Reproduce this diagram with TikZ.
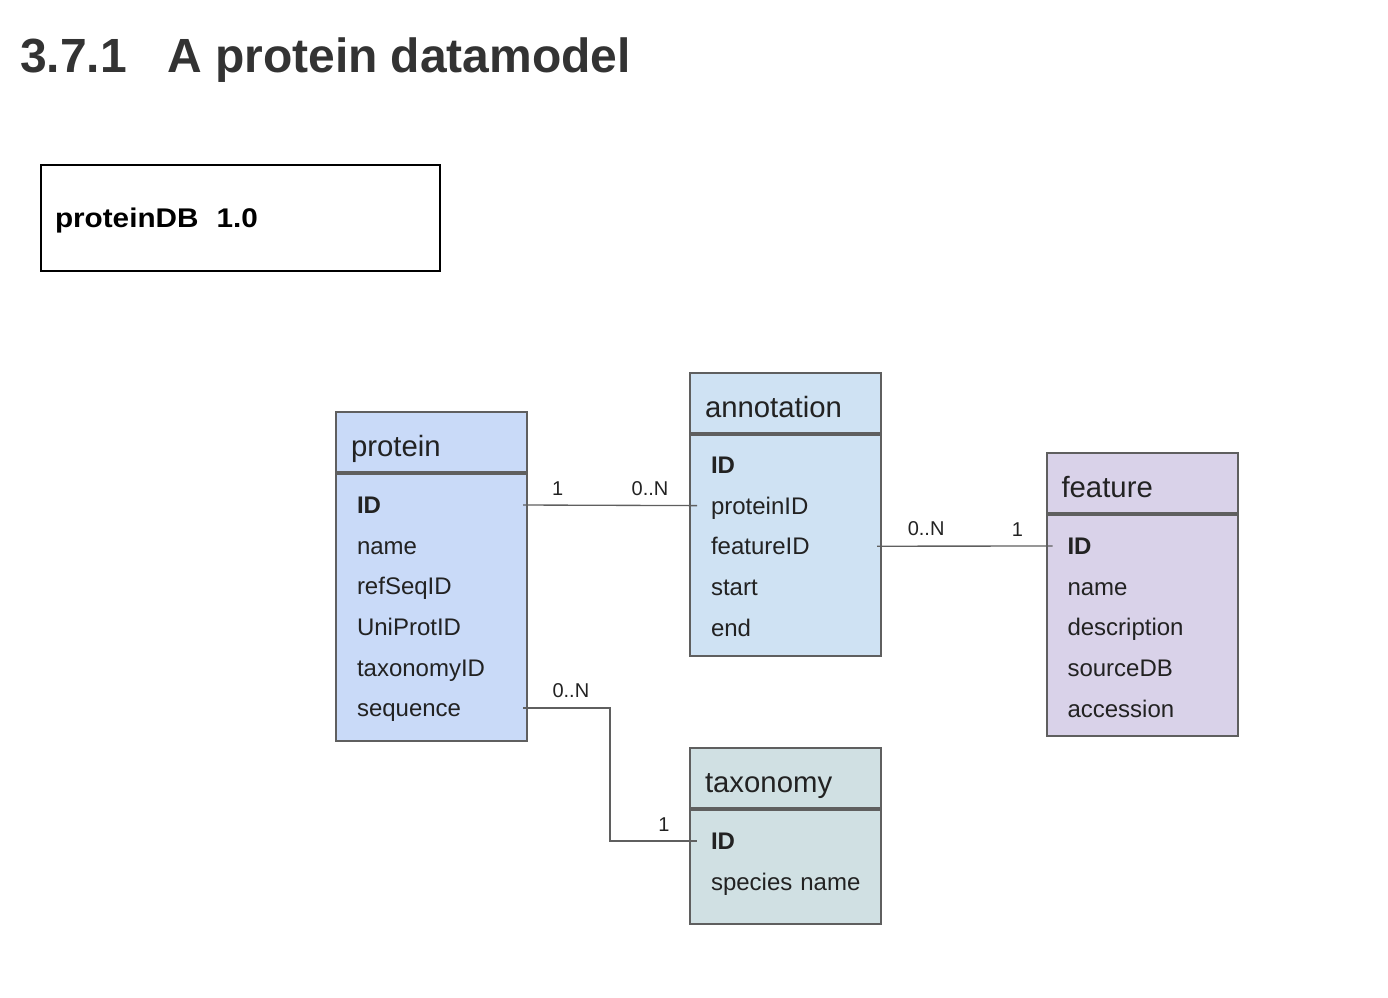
\documentclass[tikz,border=0pt]{standalone}
\usepackage{fontspec}
\setmainfont{Liberation Sans}
\newfontfamily\dbfont[FakeStretch=1.1]{Liberation Sans}
\usetikzlibrary{positioning,calc}
\definecolor{protcol}{HTML}{C9DAF8}
\definecolor{anncol}{HTML}{CFE2F3}
\definecolor{featcol}{HTML}{D9D2E9}
\definecolor{taxcol}{HTML}{D0E0E3}
\definecolor{edge}{HTML}{5F5F5F}
\definecolor{ink}{HTML}{222222}
\definecolor{titlecol}{HTML}{333333}
\begin{document}
\begin{tikzpicture}[x=0.75pt, y=-0.75pt, node distance={30.45pt},
  head/.style = {draw=edge, line width=1.5pt, minimum width=143.25pt, minimum height=45pt, text width=120.75pt, inner xsep=11.25pt, align=left, text height=21pt, text depth=0pt, text=ink, font=\fontsize{22}{26}\selectfont},
  body/.style = {draw=edge, line width=1.5pt, minimum width=143.25pt, inner sep=0pt, below=0pt of #1},
  row/.style = {text width=112.5pt, inner sep=0pt, align=left, text height=12.9pt, text depth=0pt, text=ink, font=\fontsize{18}{21.6}\selectfont},
  lbl/.style = {inner sep=0pt, above=7pt, text=ink, font=\fontsize{15}{18}\selectfont},
  link/.style = {draw=edge, line width=1pt}]
\useasboundingbox (0,0) rectangle (1388,997);

\node[anchor=base west, inner sep=0pt, text=titlecol, font=\fontsize{36}{43}\selectfont\bfseries] (title) at (20,72) {3.7.1\hspace{30pt}A protein datamodel};
\node[draw=black, line width=1.1pt, minimum width=299.25pt, minimum height=79.5pt, text width=278.25pt, inner xsep=10.5pt, align=left, text height=14.5pt, text depth=0pt, font=\fontsize{20.25}{24}\dbfont\bfseries] (db) at (240.5,218) {proteinDB~~1.0};

\node[head, fill=protcol] (1) at (431.5,442) {protein};
\node[body=1, fill=protcol, minimum height=200.25pt] (1b) {};
\node[head, fill=anncol] (2) at (785.5,403) {annotation};
\node[body=2, fill=anncol, minimum height=165.75pt] (2b) {};
\node[head, fill=featcol] (3) at (1142,483) {feature};
\node[body=3, fill=featcol, minimum height=165.75pt] (3b) {};
\node[head, fill=taxcol] (4) at (785.5,778) {taxonomy};
\node[body=4, fill=taxcol, minimum height=85.5pt] (4b) {};

\node[row] (p1) at ($(1b.north west)+(97,32)$) {\textbf{ID}};
\node[row] (p2) [below of=p1] {name};
\node[row] (p3) [below of=p2] {refSeqID};
\node[row] (p4) [below of=p3] {UniProtID};
\node[row] (p5) [below of=p4] {taxonomyID};
\node[row] (p6) [below of=p5] {sequence};

\node[row] (a1) at ($(2b.north west)+(97,31)$) {\textbf{ID}};
\node[row] (a2) [below of=a1] {proteinID};
\node[row] (a3) [below of=a2] {featureID};
\node[row] (a4) [below of=a3] {start};
\node[row] (a5) [below of=a4] {end};

\node[row] (f1) at ($(3b.north west)+(97,32)$) {\textbf{ID}};
\node[row] (f2) [below of=f1] {name};
\node[row] (f3) [below of=f2] {description};
\node[row] (f4) [below of=f3] {sourceDB};
\node[row] (f5) [below of=f4] {accession};

\node[row] (t1) at ($(4b.north west)+(97,32)$) {\textbf{ID}};
\node[row] (t2) [below of=t1] {species name};

\draw[link] ([xshift=-3.75pt]1.east |- p1) -- node[lbl, pos=.2] {1} node[lbl, pos=.73] {0..N} ([xshift=6pt]2.west |- a2);
\draw[link] ([xshift=-3.75pt]2.east |- a3) -- node[lbl, pos=.28] {0..N} node[lbl, pos=.8] {1} ([xshift=5.25pt]3.west |- f1);
\coordinate (seqEnd) at ([xshift=-3.75pt]1.east |- p6);
\coordinate (taxEnd) at ([xshift=6pt]4.west |- t1);
\draw[link] (seqEnd) -| node[lbl, pos=.275] {0..N} ($(seqEnd)!.5!(taxEnd)$) |- node[lbl, pos=.81] {1} (taxEnd);
\end{tikzpicture}
\end{document}
